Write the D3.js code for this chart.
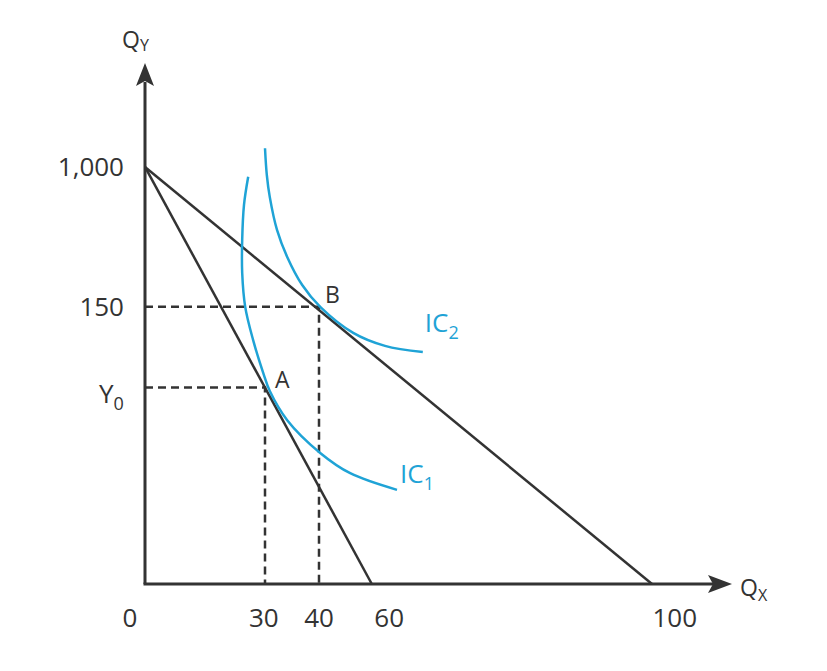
<!DOCTYPE html>
<html>
<head>
<meta charset="utf-8">
<script src="https://cdn.jsdelivr.net/npm/d3@7"></script>
<style>
  body { margin: 0; background: #fff; }
  text { font-family: "Open Sans", sans-serif; fill: #333; }
</style>
</head>
<body>
<script>
// diagram units (the figure is not drawn to scale)
const xTickLabels = ["0", "30", "40", "60", "100"];
const xTickValues = [-2.5, 19.8, 29, 40.7, 88.3];
const yTickLabels = ["1,000", "150", "Y"];
const yTickSubs = ["", "", "0"];
const yTickValues = [80.2, 53.3, 37.8];

const budgetStart = [0, 80.2];
const budgetEnds = [37.8, 84.5]; // x intercepts of the two budget lines

const bundleNames = ["A", "B"];
const bundleX = [20, 29];
const bundleY = [37.8, 53.3];

const ic1 = [[17.2, 78.3], [16.5, 72.9], [16.2, 66.2], [16.2, 59.8], [16.7, 53.3], [18.0, 47.0],
  [19.7, 40.6], [20.8, 37.1], [23.7, 31.5], [29.2, 25.2], [34.2, 21.3], [42.0, 18.1]];
const ic2 = [[20.0, 83.8], [20.3, 78.7], [20.8, 74.4], [22.0, 68.1], [23.7, 62.9], [26.2, 57.5],
  [29.2, 53.3], [34.7, 48.3], [40.0, 45.8], [46.3, 44.6]];
const icNames = ["1", "2"];

const width = 827;
const height = 671;
const dark = "#333";
const blue = "#1fa3d6";

const x = d3.scaleLinear().domain([0, 100]).range([145, 745]);
const y = d3.scaleLinear().domain([0, 100]).range([584, 64]);

const svg = d3.select("body").append("svg")
    .attr("width", width)
    .attr("height", height);

// dashed guides to A and B
bundleNames.forEach((n, i) => {
    svg.append("path")
        .attr("d", `M${x(0)},${y(bundleY[i])}H${x(bundleX[i])}V${y(0)}`)
        .attr("fill", "none")
        .attr("stroke", dark)
        .attr("stroke-width", 2.5)
        .attr("stroke-dasharray", "8,5");
});

// budget lines
svg.selectAll(".budget")
    .data(budgetEnds)
    .enter()
    .append("line")
    .attr("x1", x(budgetStart[0]))
    .attr("y1", y(budgetStart[1]))
    .attr("x2", d => x(d))
    .attr("y2", y(0))
    .attr("stroke", dark)
    .attr("stroke-width", 2.5);

// indifference curves
const curve = d3.line()
    .x(d => x(d[0]))
    .y(d => y(d[1]))
    .curve(d3.curveCatmullRom.alpha(0.5));

[ic1, ic2].forEach((pts, i) => {
    svg.append("path")
        .attr("d", curve(pts))
        .attr("fill", "none")
        .attr("stroke", blue)
        .attr("stroke-width", 2.5);

    const last = pts[pts.length - 1];
    const t = svg.append("text")
        .attr("x", x(last[0]) + (i == 0 ? 3 : 2))
        .attr("y", y(last[1]) + (i == 0 ? -7 : -20))
        .style("font-size", "26px")
        .style("fill", blue);
    t.append("tspan").text("IC");
    t.append("tspan")
        .attr("dy", 7)
        .style("font-size", "18px")
        .text(icNames[i]);
});

// axes
svg.append("line")
    .attr("x1", x(0)).attr("y1", y(0))
    .attr("x2", x(0)).attr("y2", y(100) + 18)
    .attr("stroke", dark)
    .attr("stroke-width", 3);

svg.append("line")
    .attr("x1", x(0) - 1.5).attr("y1", y(0))
    .attr("x2", x(100) - 32).attr("y2", y(0))
    .attr("stroke", dark)
    .attr("stroke-width", 3);

// arrow heads
svg.append("path")
    .attr("d", `M${x(0)},${y(100) - 1}L${x(0) + 9},${y(100) + 22}L${x(0)},${y(100) + 17}L${x(0) - 9},${y(100) + 22}Z`)
    .attr("fill", dark);

svg.append("path")
    .attr("d", `M${x(100) - 13},${y(0)}L${x(100) - 37},${y(0) + 9}L${x(100) - 32},${y(0)}L${x(100) - 37},${y(0) - 9}Z`)
    .attr("fill", dark);

// axis titles
const qy = svg.append("text")
    .attr("x", 122)
    .attr("y", 48)
    .style("font-size", "23px");
qy.append("tspan").text("Q");
qy.append("tspan").attr("dy", 3).style("font-size", "16px").text("Y");

const qx = svg.append("text")
    .attr("x", 740)
    .attr("y", 596)
    .style("font-size", "23px");
qx.append("tspan").text("Q");
qx.append("tspan").attr("dy", 5).style("font-size", "16px").text("X");

// tick labels
svg.selectAll(".xlab")
    .data(xTickLabels)
    .enter()
    .append("text")
    .attr("x", (d, i) => x(xTickValues[i]))
    .attr("y", y(0) + 43)
    .attr("text-anchor", "middle")
    .style("font-size", "26px")
    .text(d => d);

svg.selectAll(".ylab")
    .data(yTickLabels)
    .enter()
    .append("text")
    .attr("x", (d, i) => yTickSubs[i] ? 113 : 124)
    .attr("y", (d, i) => y(yTickValues[i]) + (yTickSubs[i] ? 16 : 9))
    .attr("text-anchor", "end")
    .style("font-size", "26px")
    .each(function (d, i) {
        const t = d3.select(this);
        t.append("tspan").text(d);
        if (yTickSubs[i]) {
            t.attr("text-anchor", "start").attr("x", 99);
            t.append("tspan").attr("dy", 7).style("font-size", "18px").text(yTickSubs[i]);
        }
    });

// bundle labels
svg.selectAll(".blab")
    .data(bundleNames)
    .enter()
    .append("text")
    .attr("x", (d, i) => x(bundleX[i]) + (i == 0 ? 10 : 6))
    .attr("y", (d, i) => y(bundleY[i]) + (i == 0 ? 1 : -4))
    .style("font-size", "23px")
    .text(d => d);
</script>
</body>
</html>
